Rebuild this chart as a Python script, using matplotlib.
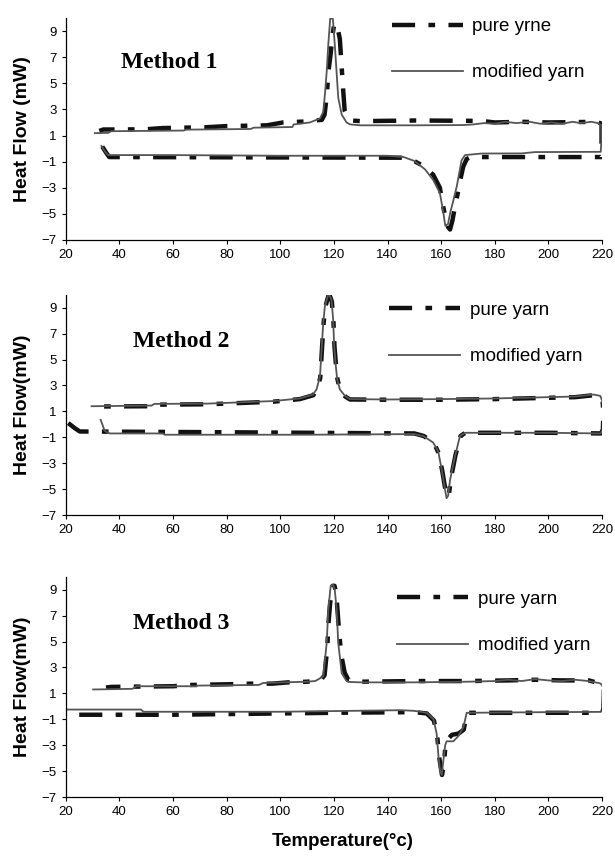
import matplotlib
matplotlib.use("Agg")
import matplotlib.pyplot as plt

plt.rcParams['font.family'] = ['Liberation Sans', 'DejaVu Sans']

# ---- Method 1 ----  (heating 33 -> 220, then cooling 220 -> 30)
m1_pure_T = [33.6, 35.0, 36.2, 100, 145, 149, 153, 157, 159.5, 160.5, 161.5, 162.5, 163.3, 164.2, 165, 166,
             167, 168.2, 169.5, 171, 219.8, 219.8, 218, 200, 190, 180, 175, 150, 130, 126.5, 125.3, 124,
             123.4, 122.8, 122.2, 121.5, 120.7, 120, 119.4, 118.8, 118, 117.3, 116.5, 115.5, 109, 101, 95,
             80, 72, 64, 56, 50, 40, 34, 32.5]
m1_pure_hf = [0.15, -0.3, -0.65, -0.68, -0.7, -0.85, -1.3, -2.0, -3.0, -4.2, -5.2, -6.0, -6.2, -5.5, -4.6, -3.6,
              -2.5, -1.4, -0.8, -0.65, -0.65, 1.9, 2.05, 2.0, 2.05, 2.0, 2.12, 2.15, 2.1, 2.15, 2.3, 2.9,
              4.6, 6.5, 8.4, 9.1, 9.6, 9.4, 8.6, 7.3, 6.0, 4.0, 2.6, 2.2, 2.07, 2.0, 1.78,
              1.72, 1.63, 1.6, 1.57, 1.48, 1.46, 1.46, 1.35]
m1_mod_T = [33.3, 34.5, 35.8, 60, 100, 140, 146, 150, 154, 157, 159.5, 160.8, 161.5, 162.5, 163.5, 164.5,
            165.8, 167.6, 168.9, 175, 190, 195, 219.5, 219.7, 219.7, 218.5, 216, 212, 209, 205, 201, 197,
            193, 188, 184, 180, 176, 172, 168, 150, 130, 126, 124.7, 122.9, 121.6, 121, 120.3, 119.6,
            118.6, 117.9, 117.3, 116.7, 116, 114.8, 111, 107.3, 105, 104.5, 90, 89, 65, 64, 37, 35.7, 30.8]
m1_mod_hf = [0.2, -0.2, -0.5, -0.5, -0.55, -0.55, -0.65, -0.95, -1.6, -2.4, -3.4, -4.9, -5.9, -5.8, -4.8, -4.0,
             -2.9, -0.9, -0.5, -0.38, -0.37, -0.27, -0.25, 0.5, 1.8, 1.95, 2.05, 1.95, 2.05, 1.9, 2.0, 1.9,
             2.05, 1.95, 2.05, 1.9, 1.95, 1.85, 1.8, 1.78, 1.78, 1.85, 2.0, 2.6, 3.9, 5.8, 8.0, 9.95,
             9.95, 8.0, 5.9, 4.3, 2.8, 2.3, 2.0, 1.9, 1.85, 1.65, 1.6, 1.5, 1.45, 1.38, 1.33, 1.2, 1.18]

# ---- Method 2 ----
m2_pure_T = [20.9, 23.4, 25.2, 72, 150, 153.5, 157.2, 159, 160.4, 161.6, 162.3, 162.9, 163.6, 165.3, 167.2,
             169, 200, 219.6, 220.3, 220.5, 220.2, 219.3, 216.8, 210, 200, 180, 160, 140, 126, 124.2, 122.3,
             121.3, 120.8, 120.2, 119.8, 119.2, 118.5, 117.9, 116.7, 116.1, 115.5, 114.9, 113.6, 112.3,
             107.3, 97.4, 79, 72.5, 53, 52, 33.5]
m2_pure_hf = [0.1, -0.3, -0.55, -0.6, -0.7, -0.9, -1.4, -2.2, -3.6, -5.1, -5.6, -5.4, -4.2, -2.4, -0.9,
              -0.65, -0.65, -0.7, -0.4, 0.9, 1.8, 2.15, 2.25, 2.1, 2.05, 1.95, 1.9, 1.9, 1.92, 2.15, 2.65,
              3.5, 4.5, 6.0, 8.0, 9.5, 9.9, 9.9, 9.0, 7.7, 5.7, 3.6, 2.65, 2.25,
              1.95, 1.75, 1.6, 1.55, 1.52, 1.4, 1.38]
m2_mod_T = [33, 34.5, 36.4, 56, 57, 110, 150, 153.3, 157, 158.9, 160.2, 161.4, 162, 162.6, 163.3, 165.1,
            167, 168.9, 200, 219.5, 220.2, 220.4, 220.1, 219.3, 216.8, 210, 200, 180, 160, 140, 126, 124.1,
            122.2, 121.2, 120.7, 120.1, 119.7, 119.1, 118.4, 117.8, 116.6, 116, 115.4, 114.8, 113.5, 112.2,
            107.3, 97.4, 79, 72.5, 53, 52, 29.6]
m2_mod_hf = [0.35, -0.5, -0.7, -0.7, -0.8, -0.8, -0.75, -0.9, -1.4, -2.1, -3.5, -5.0, -5.7, -5.5, -4.3, -2.5,
             -0.9, -0.65, -0.65, -0.7, -0.4, 0.9, 1.8, 2.2, 2.3, 2.15, 2.1, 2.0, 1.95, 1.92, 1.95, 2.2,
             2.7, 3.5, 4.5, 6.0, 8.1, 9.6, 9.95, 9.95, 9.1, 7.8, 5.8, 3.7, 2.7, 2.3,
             2.0, 1.8, 1.65, 1.6, 1.58, 1.45, 1.4]

# ---- Method 3 ----
m3_pure_T = [25, 60, 120, 150, 154.6, 157.3, 158.6, 159.3, 160.3, 161, 161.6, 162.2, 164, 166.5, 168.4,
             169.6, 200, 219.5, 220.5, 220.7, 219.5, 218.7, 215, 205, 195, 185, 170, 150, 130, 125.5, 124,
             122.7, 121.9, 121.3, 120.8, 120.2, 119.5, 118.6, 118, 117.5, 116.5, 115, 110, 103, 97, 89,
             80, 67, 60, 37, 35]
m3_pure_hf = [-0.65, -0.65, -0.5, -0.45, -0.55, -1.1, -2.5, -4.0, -5.3, -4.5, -3.0, -2.6, -2.2, -2.1, -1.8,
              -0.5, -0.5, -0.5, -0.3, 1.4, 1.75, 1.8, 2.0, 2.0, 2.05, 2.0, 1.95, 1.95, 1.9, 2.0, 2.6,
              4.0, 5.8, 7.5, 8.8, 9.3, 9.3, 8.0, 6.5, 4.5, 2.4, 2.0, 1.9, 1.85, 1.75, 1.75,
              1.7, 1.65, 1.55, 1.5, 1.45]
m3_mod_T = [20, 48, 49, 100, 145, 150, 154.6, 157.1, 158.3, 159, 159.6, 160.2, 160.8, 161.5, 162, 164.5,
            166.4, 168.3, 169.5, 200, 219.5, 220.5, 220.7, 219.5, 218.7, 215, 210, 205, 200, 195, 190,
            185, 180, 170, 150, 130, 126, 124.7, 122.9, 121.6, 121, 120.3, 119.7, 118.8, 117.9, 117.3,
            116, 113, 109.8, 93.6, 92, 69, 68.8, 46.4, 44.8, 30.2]
m3_mod_hf = [-0.25, -0.25, -0.42, -0.42, -0.3, -0.35, -0.5, -1.0, -2.1, -3.9, -5.0, -5.3, -4.2, -3.0, -2.7, -2.7,
             -2.3, -1.6, -0.5, -0.45, -0.43, -0.3, 1.4, 1.75, 1.8, 1.95, 2.05, 1.95, 2.0, 2.1, 1.95,
             2.05, 1.95, 1.9, 1.85, 1.85, 1.88, 1.95, 2.55, 4.9, 7.5, 9.0, 9.4, 9.3, 7.5, 4.9,
             2.3, 1.95, 1.9, 1.8, 1.65, 1.6, 1.55, 1.55, 1.35, 1.3]

methods = ["Method 1", "Method 2", "Method 3"]
pure_labels = ["pure yrne", "pure yarn", "pure yarn"]
ylabels = ["Heat Flow (mW)", "Heat Flow(mW)", "Heat Flow(mW)"]
xticks = list(range(20, 221, 20))
yticks = [-7, -5, -3, -1, 1, 3, 5, 7, 9]

fig = plt.figure(figsize=(6.15, 8.57), dpi=100)
# [left, bottom, width, height] in figure fraction
boxes = [[0.107, 0.720, 0.872, 0.259],
         [0.107, 0.399, 0.872, 0.257],
         [0.107, 0.070, 0.872, 0.257]]
text_pos = [(0.103, 0.80), (0.125, 0.786), (0.125, 0.79)]
leg_pos = [(0.608, 1.0), (0.603, 0.968), (0.618, 0.936)]

data = [(m1_pure_T, m1_pure_hf, m1_mod_T, m1_mod_hf),
        (m2_pure_T, m2_pure_hf, m2_mod_T, m2_mod_hf),
        (m3_pure_T, m3_pure_hf, m3_mod_T, m3_mod_hf)]

for i in range(3):
    ax = fig.add_axes(boxes[i])
    pT, pH, mT, mH = data[i]
    ax.plot(pT, pH, color='#111111', lw=3.2, dashes=(5.2, 3.0, 1.5, 3.0),
            solid_capstyle='butt', label=pure_labels[i])
    ax.plot(mT, mH, color='#555555', lw=1.3, label='modified yarn')

    ax.set_xlim(20, 220)
    ax.set_ylim(-7, 10)
    ax.set_xticks(xticks)
    ax.set_yticks(yticks)
    ax.tick_params(labelsize=9.5, length=3, width=0.8, direction='out')
    for s in ['top', 'right']:
        ax.spines[s].set_visible(False)
    ax.spines['left'].set_linewidth(0.9)
    ax.spines['bottom'].set_linewidth(0.9)

    ax.set_ylabel(ylabels[i], fontsize=14, fontweight='bold')
    ax.yaxis.set_label_coords(-0.065, 0.5)

    ax.text(text_pos[i][0], text_pos[i][1], methods[i], transform=ax.transAxes,
            fontsize=17, fontweight='bold', family='Liberation Serif', va='center', ha='left')

    ax.legend(loc='upper left', bbox_to_anchor=leg_pos[i], frameon=False, fontsize=13.5,
              handlelength=3.8, handletextpad=0.5, labelspacing=1.55, borderpad=0, borderaxespad=0)

    if i == 2:
        ax.set_xlabel('Temperature(°c)', fontsize=13.5, fontweight='bold')
        ax.xaxis.set_label_coords(0.517, -0.165)

fig.savefig('out.png', dpi=100)
